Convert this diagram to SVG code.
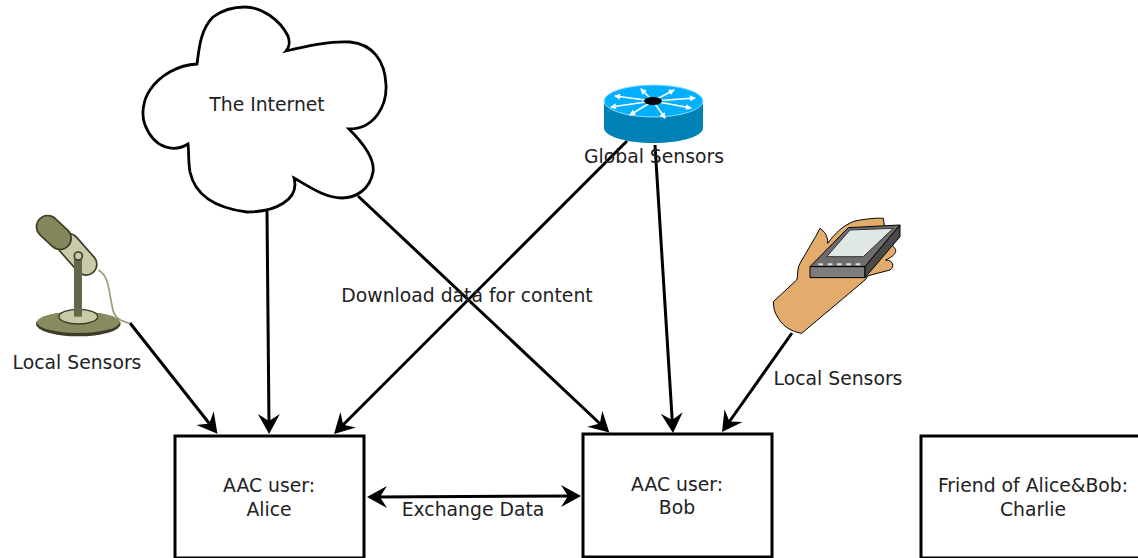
<svg xmlns="http://www.w3.org/2000/svg" width="1138" height="558" viewBox="0 0 1138 558">
<style>
text{font-family:"DejaVu Sans",sans-serif;font-size:18.8px;fill:#222;text-anchor:middle}
.box{fill:#fff;stroke:#000;stroke-width:3}
.c{fill:none;stroke:#000;stroke-width:3;marker-end:url(#a)}
</style>
<defs>
<marker id="a" markerUnits="userSpaceOnUse" markerWidth="36" markerHeight="28" viewBox="-24 -14 36 28" refX="-8" refY="0" orient="auto-start-reverse" overflow="visible">
<path d="M0 0L-20 -11L-13 0L-20 11Z" fill="#000"/>
</marker>
<marker id="w" markerUnits="userSpaceOnUse" markerWidth="8" markerHeight="8" viewBox="-6 -4 8 8" refX="0" refY="0" orient="auto">
<path d="M1 0L-5 -3V3Z" fill="#fff"/>
</marker>
</defs>
<rect width="1138" height="558" fill="#fff"/>
<g id="connectors">
<line class="c" x1="130" y1="323" x2="212.500" y2="427.500"/>
<line class="c" x1="267" y1="211" x2="269" y2="426"/>
<line class="c" x1="627" y1="141" x2="339.7" y2="428.3"/>
<line class="c" x1="358" y1="196" x2="603.500" y2="427"/>
<line class="c" x1="655" y1="145" x2="672.5" y2="425"/>
<line class="c" x1="792" y1="333" x2="726.6" y2="425.5"/>
<line class="c" style="marker-start:url(#a)" x1="375" y1="497" x2="573" y2="496"/>
</g>
<g id="internet">
<path d="M197 64C199 50 200 30 213 17C225 8 238 7 245 7C262 7 280 20 288 36C290 42 290 46 286 51C310 45 335 41 350 42C372 44 385 60 386 85C387 105 375 129 349 129C365 145 375 160 373 172C370 190 355 198 342 198C325 198 310 187 294 178C300 200 275 212 247 212C215 208 195 195 190 172C188 160 189 150 188 144C175 152 155 150 145 125C141 115 143 100 150 90C160 75 178 65 197 64Z" fill="#fff" stroke="#000" stroke-width="2.8"/>
<text x="267" y="110.500">The Internet</text>
</g>
<g id="global-sensors">
<path d="M604 101V128C604 136 625 143 653.500 143S703 136 703 128V101Z" fill="#0081b5"/>
<ellipse cx="653.500" cy="101" rx="49.500" ry="16" fill="#00b0ff" stroke="#8fdcff"/>
<g stroke="#fff" stroke-width="1.6" fill="none">
<path marker-end="url(#w)" d="M653 101L615 96"/>
<path marker-end="url(#w)" d="M653 101L611 107"/>
<path marker-end="url(#w)" d="M653 101L630 115"/>
<path marker-end="url(#w)" d="M653 101L665 118"/>
<path marker-end="url(#w)" d="M653 101L691 108"/>
<path marker-end="url(#w)" d="M653 101L695 98"/>
<path marker-end="url(#w)" d="M653 101L674 90"/>
<path marker-end="url(#w)" d="M653 101L641 89"/>
</g>
<ellipse cx="653" cy="101" rx="9" ry="4" fill="#000"/>
<text x="654" y="162.500">Global Sensors</text>
</g>
<g id="local-sensors-mic">
<g transform="translate(0 205) scale(.3333)">
<path d="M295 195C330 215 325 260 340 320C350 345 370 350 390 355" fill="none" stroke="#9a9a78" stroke-width="5"/>
<ellipse cx="235" cy="357" rx="127" ry="37" fill="#3c3c28"/>
<ellipse cx="235" cy="352" rx="124" ry="32" fill="#8a8a60"/>
<ellipse cx="235" cy="335" rx="58" ry="22" fill="#c9caa8" stroke="#3c3c28" stroke-width="4"/>
<line x1="205" y1="118" x2="258" y2="178" stroke="#3c3c28" stroke-width="70" stroke-linecap="round"/>
<line x1="205" y1="118" x2="258" y2="178" stroke="#c9caa8" stroke-width="60" stroke-linecap="round"/>
<line x1="143" y1="65" x2="180" y2="100" stroke="#3c3c28" stroke-width="72" stroke-linecap="round"/>
<line x1="143" y1="65" x2="180" y2="100" stroke="#86865c" stroke-width="62" stroke-linecap="round"/>
<rect x="222" y="155" width="24" height="180" fill="#66664a"/>
<circle cx="235" cy="153" r="12" fill="#c9caa8" stroke="#3c3c28" stroke-width="5"/>
</g>
<text x="77" y="368.500">Local Sensors</text>
</g>
<g id="local-sensors-hand">
<g transform="translate(765 205) scale(.3333)" stroke="#000" stroke-width="3" stroke-linejoin="round">
<path d="M25 290L95 225C100 210 95 195 105 175C125 140 150 100 165 70C178 78 190 95 188 115C210 85 235 60 270 48C300 42 335 38 355 40L358 62L385 125C398 135 395 150 362 165C385 165 390 185 375 195L310 212L300 225L110 385C80 380 55 365 40 340C30 325 25 310 25 290Z" fill="#e3ac6c"/>
<path d="M135 185L250 68L405 60L300 185Z" fill="#6d6d6d"/>
<path d="M135 185H300V218H135Z" fill="#7d7d7d"/>
<path d="M300 185L405 60V95L300 218Z" fill="#4a4a4a"/>
<path d="M185 155L255 75L385 70L295 155Z" fill="#dfe8e6" stroke="#333"/>
<path d="M160 178H300" stroke="#ddd" stroke-width="6" stroke-dasharray="14 14"/>
</g>
<text x="838" y="384.500">Local Sensors</text>
</g>
<g id="alice">
<rect class="box" x="175" y="436" width="189" height="122"/>
<text x="269" y="491.500">AAC user:</text>
<text x="269" y="515.500">Alice</text>
</g>
<g id="bob">
<rect class="box" x="583" y="434" width="189" height="123"/>
<text x="677" y="490.500">AAC user:</text>
<text x="677" y="513.500">Bob</text>
</g>
<g id="charlie">
<rect class="box" x="921" y="436" width="220" height="122"/>
<text x="1033" y="491.500">Friend of Alice&amp;Bob:</text>
<text x="1033" y="515.500">Charlie</text>
</g>
<g id="labels">
<text x="467" y="301.500">Download data for content</text>
<text x="473" y="515.500">Exchange Data</text>
</g>
</svg>
